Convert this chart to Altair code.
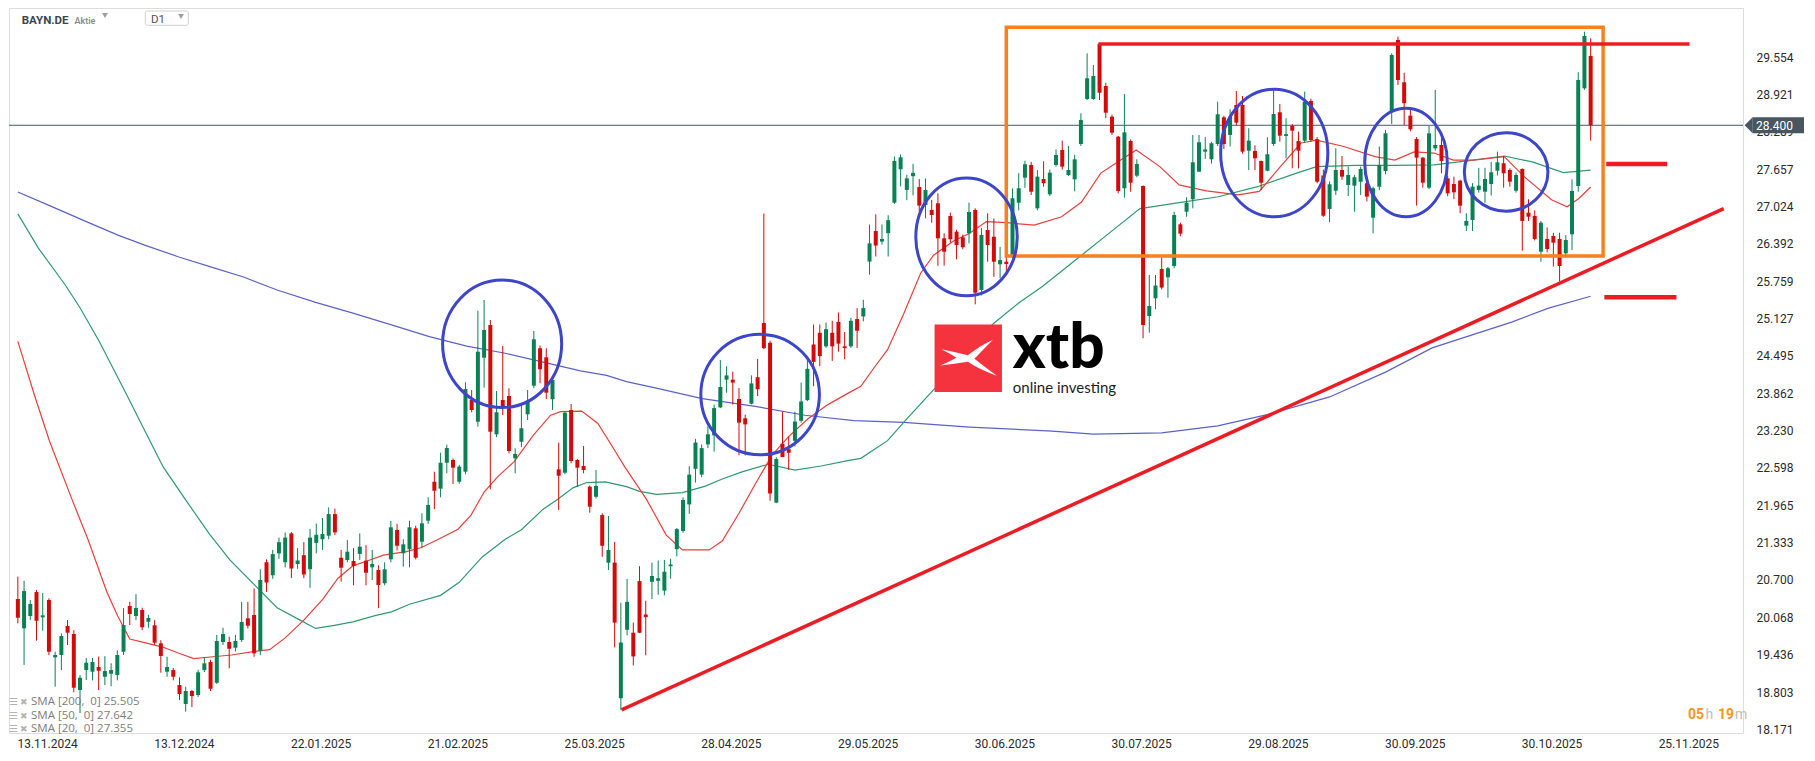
import json
import altair as alt
import pandas as pd

# ---------------- data (daily candles, index 0 = first bar) -------------
opens = [
    20.378, 19.882, 20.090, 20.496, 20.068, 20.361, 19.391, 19.430, 19.921, 19.785,
    18.837, 19.175, 19.147, 19.226, 19.062, 19.113, 19.091, 19.485, 20.259, 20.090,
    20.192, 19.994, 19.933, 19.628, 19.147, 19.175, 18.921, 18.600, 18.820, 18.752,
    19.175, 19.311, 18.960, 19.650, 19.650, 19.553, 19.684, 20.051, 20.107, 19.502,
    21.001, 20.781, 21.150, 21.001, 21.489, 20.970, 21.120, 20.883, 21.328, 21.390,
    21.450, 21.816, 21.077, 21.038, 21.021, 21.141, 21.027, 20.915, 20.869, 20.644,
    21.050, 21.547, 21.152, 21.220, 21.575, 21.348, 21.704, 22.364, 22.247, 22.686,
    22.732, 22.364, 22.534, 23.748, 23.380, 24.464, 25.018, 23.167, 23.748, 23.816,
    22.761, 23.042, 23.506, 23.990, 24.624, 24.471, 23.760, 22.574, 22.517, 23.579,
    22.732, 22.630, 22.280, 22.110, 21.800, 20.993, 20.994, 18.698, 19.857, 19.807,
    20.681, 20.115, 20.669, 20.686, 20.520, 20.933, 21.223, 21.530, 21.980, 22.583,
    22.485, 22.996, 23.150, 23.623, 24.092, 24.092, 23.765, 23.438, 23.685, 24.134,
    25.052, 24.718, 22.011, 23.008, 22.915, 23.057, 23.396, 23.746, 24.688, 24.886,
    24.657, 24.886, 25.071, 24.657, 24.657, 25.119, 25.162, 26.092, 26.609, 26.431,
    26.573, 27.089, 27.655, 27.305, 27.538, 27.354, 27.050, 26.966, 27.079, 26.486,
    26.864, 26.598, 26.503, 26.571, 26.966, 25.611, 26.627, 26.513, 26.046, 26.090,
    26.175, 27.089, 27.513, 27.728, 26.994, 27.490, 27.231, 27.727, 27.982, 27.558,
    27.485, 28.083, 28.845, 28.845, 29.777, 29.066, 28.546, 28.207, 27.333, 28.134,
    27.547, 27.372, 25.170, 25.470, 25.967, 25.826, 26.017, 26.723, 26.937, 27.147,
    27.614, 27.953, 27.824, 28.083, 28.535, 28.236, 28.744, 28.744, 27.970, 27.965,
    27.796, 27.631, 28.083, 28.620, 28.220, 28.388, 28.134, 28.139, 28.812, 28.163,
    27.550, 26.982, 27.292, 27.643, 27.389, 27.378, 27.445, 27.418, 26.835, 27.360,
    27.626, 28.647, 29.845, 29.128, 28.563, 28.168, 27.852, 27.344, 28.010, 28.066,
    27.502, 27.406, 27.462, 26.700, 26.797, 27.305, 27.276, 27.406, 27.631, 27.757,
    27.643, 27.292, 27.660, 26.920, 26.865, 26.260, 26.475, 26.526, 26.475, 26.232,
    26.554, 27.372, 29.026, 29.574,
]
highs = [
    20.756, 20.688, 20.36, 20.53, 20.480, 20.39, 19.485, 19.797, 20.022, 19.85,
    19.09, 19.379, 19.38, 19.401, 19.41, 19.29, 19.51, 20.226, 20.332, 20.46,
    20.23, 20.11, 20.02, 19.68, 19.40, 19.21, 19.05, 18.893, 18.84, 19.18,
    19.38, 19.35, 19.768, 19.89, 19.74, 19.77, 20.33, 20.33, 20.557, 20.881,
    21.05, 21.21, 21.418, 21.506, 21.51, 21.24, 21.34, 21.565, 21.655, 21.75,
    21.93, 21.91, 21.21, 21.38, 21.24, 21.49, 21.29, 21.21, 20.95, 21.0,
    21.70, 21.65, 21.39, 21.704, 21.62, 21.829, 22.101, 22.534, 22.856, 22.991,
    22.76, 22.65, 24.048, 23.918, 25.260, 25.442, 25.103, 23.90, 24.663, 23.946,
    22.930, 23.663, 23.918, 24.917, 24.67, 24.624, 24.12, 23.025, 23.56, 23.680,
    22.75, 22.969, 22.30, 22.562, 21.83, 21.784, 21.345, 20.317, 20.718, 19.98,
    20.933, 20.349, 20.994, 21.03, 21.04, 21.06, 21.58, 22.10, 22.627, 23.09,
    22.996, 23.303, 23.672, 24.424, 24.319, 24.227, 23.950, 23.50, 24.165, 24.443,
    26.905, 24.75, 22.78, 23.550, 23.131, 23.55, 24.043, 24.443, 25.027, 25.027,
    25.06, 25.09, 25.230, 24.90, 25.14, 25.304, 25.445, 26.720, 26.893, 26.72,
    26.876, 27.872, 27.907, 27.563, 27.748, 27.489, 27.50, 27.135, 27.249, 26.57,
    26.92, 26.63, 26.55, 27.09, 26.994, 26.66, 26.910, 26.82, 26.34, 26.17,
    27.33, 27.59, 27.80, 27.78, 27.64, 27.79, 27.65, 27.99, 28.14, 28.05,
    27.9, 28.603, 29.619, 29.422, 29.78, 29.12, 28.58, 28.22, 28.93, 28.16,
    27.824, 27.38, 25.865, 25.865, 26.164, 26.0, 26.937, 26.75, 27.18, 28.236,
    28.236, 28.2, 28.12, 28.80, 28.56, 28.672, 28.98, 28.896, 28.35, 28.06,
    27.80, 28.197, 29.01, 28.761, 28.519, 28.42, 28.292, 28.969, 28.85, 28.2,
    27.65, 27.45, 28.01, 27.88, 27.70, 27.56, 27.70, 27.45, 27.36, 28.04,
    28.32, 29.619, 29.90, 29.29, 28.66, 28.20, 27.86, 28.388, 28.998, 28.19,
    27.55, 27.53, 27.48, 26.91, 27.42, 27.68, 27.68, 27.78, 27.953, 27.88,
    27.67, 27.6, 27.67, 27.147, 26.96, 26.78, 26.670, 26.58, 26.58, 26.54,
    27.485, 29.298, 29.985, 29.873,
]
lows = [
    19.966, 19.260, 20.02, 19.672, 19.841, 19.430, 18.893, 19.175, 19.599, 18.798,
    18.447, 19.006, 19.0, 18.837, 18.92, 18.90, 19.0, 19.43, 19.938, 20.02,
    19.85, 19.89, 19.60, 19.130, 19.06, 19.0, 18.67, 18.469, 18.549, 18.72,
    19.14, 18.82, 18.94, 19.60, 19.204, 19.49, 19.65, 19.88, 19.40, 19.43,
    20.50, 20.72, 21.06, 20.913, 20.733, 20.89, 20.73, 20.568, 21.15, 21.21,
    21.39, 21.46, 20.671, 21.0, 20.61, 21.04, 20.61, 20.70, 20.221, 20.61,
    21.0, 21.20, 20.925, 20.915, 21.05, 21.236, 21.65, 21.90, 22.10, 22.507,
    22.325, 22.33, 22.490, 23.54, 23.296, 23.956, 22.236, 23.12, 23.494, 22.845,
    22.507, 22.95, 23.41, 23.946, 24.031, 23.765, 23.579, 21.885, 22.49, 22.676,
    22.280, 22.507, 21.839, 22.08, 21.094, 20.869, 19.560, 18.502, 19.763, 19.252,
    19.80, 19.425, 20.378, 20.45, 20.44, 20.72, 21.10, 21.50, 21.82, 22.35,
    22.441, 22.933, 22.872, 23.61, 23.870, 23.672, 22.812, 22.81, 23.672, 23.814,
    24.61, 22.041, 22.0, 22.78, 22.564, 22.96, 23.365, 23.73, 23.980, 24.32,
    24.63, 24.41, 24.566, 24.44, 24.63, 24.63, 25.08, 25.870, 26.178, 26.38,
    26.178, 27.07, 27.365, 27.132, 27.213, 26.935, 26.825, 26.75, 26.022, 26.022,
    26.41, 26.13, 26.30, 26.40, 25.369, 25.52, 26.090, 25.835, 25.81, 25.89,
    26.15, 26.96, 27.34, 27.22, 26.96, 27.36, 27.20, 27.70, 27.65, 27.54,
    27.28, 28.05, 28.828, 28.83, 28.828, 28.519, 28.236, 27.248, 27.174, 27.275,
    27.52, 24.793, 24.888, 25.284, 25.62, 25.48, 25.98, 26.52, 26.85, 26.994,
    27.61, 27.83, 27.75, 28.05, 28.0, 28.04, 28.40, 27.92, 27.643, 27.64,
    27.305, 27.62, 28.05, 28.122, 27.841, 27.672, 27.67, 28.10, 28.12, 27.418,
    26.85, 26.758, 27.220, 27.474, 27.203, 26.937, 27.22, 27.11, 26.571, 27.3,
    27.57, 28.422, 29.083, 28.405, 28.30, 27.039, 27.344, 27.32, 27.970, 27.587,
    27.2, 27.15, 26.910, 26.610, 26.61, 27.26, 27.089, 27.21, 27.55, 27.344,
    27.36, 27.26, 26.276, 26.78, 26.45, 26.09, 26.25, 26.007, 25.753, 26.16,
    26.288, 27.275, 29.0, 28.139,
]
closes = [
    20.061, 20.513, 20.293, 20.010, 20.102, 19.485, 19.430, 19.751, 19.807, 18.876,
    19.045, 19.299, 19.311, 19.164, 19.158, 19.175, 19.430, 19.938, 20.124, 20.226,
    19.899, 20.056, 19.638, 19.413, 19.226, 19.062, 18.769, 18.820, 18.735, 19.137,
    19.289, 18.859, 19.667, 19.785, 19.536, 19.667, 19.988, 19.926, 19.458, 20.700,
    20.657, 21.138, 21.340, 21.418, 20.894, 21.030, 20.793, 21.418, 21.465, 21.480,
    21.816, 21.506, 20.908, 21.179, 20.937, 21.264, 20.823, 20.970, 20.615, 20.881,
    21.592, 21.280, 21.304, 21.592, 21.077, 21.660, 21.970, 22.212, 22.686, 22.935,
    22.602, 22.619, 23.934, 23.579, 24.566, 24.933, 23.211, 23.540, 23.624, 22.884,
    22.834, 23.269, 23.736, 24.776, 24.268, 23.872, 24.087, 22.466, 23.533, 22.715,
    22.602, 22.562, 21.941, 22.292, 21.280, 21.208, 19.978, 19.641, 20.330, 19.406,
    19.807, 20.071, 20.767, 20.730, 20.840, 20.963, 21.562, 22.055, 22.485, 23.027,
    22.933, 23.167, 23.611, 23.968, 24.165, 24.043, 23.365, 23.335, 24.029, 23.931,
    24.627, 22.165, 22.749, 22.781, 22.854, 23.384, 23.723, 24.276, 24.393, 24.491,
    24.947, 24.657, 24.702, 24.627, 25.089, 24.921, 25.304, 26.400, 26.363, 26.474,
    26.793, 27.797, 27.858, 27.501, 27.594, 27.040, 27.305, 26.881, 26.486, 26.259,
    26.470, 26.373, 26.334, 26.932, 25.565, 26.543, 26.373, 26.090, 26.118, 26.050,
    27.164, 27.333, 27.740, 27.276, 27.530, 27.418, 27.597, 27.897, 27.700, 27.643,
    27.824, 28.490, 29.196, 29.235, 28.952, 28.613, 28.275, 27.287, 28.281, 27.428,
    27.745, 25.018, 25.340, 25.686, 25.652, 25.979, 26.881, 26.565, 27.089, 27.773,
    28.112, 27.990, 28.095, 28.586, 28.083, 28.546, 28.444, 27.953, 28.140, 27.841,
    27.428, 27.909, 28.591, 28.224, 28.250, 28.308, 27.970, 28.800, 28.151, 27.445,
    26.869, 27.401, 27.643, 27.530, 27.558, 27.520, 27.660, 27.192, 27.333, 27.728,
    28.264, 29.590, 29.167, 28.773, 28.332, 27.852, 27.428, 28.264, 28.066, 27.794,
    27.248, 27.265, 27.039, 26.780, 27.361, 27.378, 27.490, 27.604, 27.773, 27.587,
    27.445, 27.558, 26.780, 26.852, 26.475, 26.750, 26.305, 26.412, 26.017, 26.458,
    27.287, 29.167, 29.912, 28.400,
]

# moving averages (bar index, value)
sma20_k = [0, 2.7, 5.1, 8.8, 11.3, 14.3, 16.1, 18, 20.4, 23.4, 25.9, 28.3, 31.4, 34.4, 38.1,
           40.5, 43, 46, 49.1, 51.5, 53.9, 56.4, 58.8, 62.5, 64.9, 67.5, 70.8, 72.9, 75, 77.2,
           79.8, 83, 85.7, 87.3, 90.7, 93.3, 95.8, 97.6, 101.1, 104.3, 106.9, 111.2, 113.3, 116,
           118.6, 121.3, 123.9, 127.1, 130.3, 133.5, 135.6, 137.7, 139.9, 142.5, 145.2, 147.3,
           150.5, 153.1, 155.8, 159, 163.5, 167.9, 171.1, 174.2, 177.4, 179.9, 183.7, 186.8,
           191.2, 196.3, 199.7, 202.6, 206.4, 208.9, 213.3, 218.3, 221.5, 224.6, 227.8, 230.9,
           234.1, 239.1, 242.3, 246.7, 249.2, 251.1, 253]
sma20_v = [24.74, 23.82, 23.05, 22.04, 21.38, 20.50, 20.08, 19.70, 19.64, 19.56, 19.46, 19.37,
           19.40, 19.43, 19.49, 19.52, 19.72, 20.02, 20.38, 20.73, 20.94, 21.03, 21.12, 21.18,
           21.25, 21.38, 21.56, 21.80, 22.19, 22.45, 22.70, 23.16, 23.49, 23.55, 23.56, 23.35,
           22.93, 22.62, 22.07, 21.46, 21.21, 21.21, 21.36, 21.83, 22.32, 22.81, 23.12, 23.43,
           23.67, 23.86, 23.98, 24.29, 24.60, 25.21, 25.89, 26.20, 26.44, 26.57, 26.77, 26.75,
           26.71, 26.85, 27.10, 27.59, 27.81, 27.98, 27.70, 27.39, 27.29, 27.22, 27.28, 27.64,
           28.10, 28.15, 28.04, 27.87, 27.81, 27.95, 27.93, 27.81, 27.81, 27.87, 27.53, 27.14,
           27.02, 27.16, 27.355]
sma50_k = [0, 3.3, 7.6, 10, 13.1, 17.3, 20.4, 23.4, 27.1, 30.8, 34.1, 38.5, 41.7, 45.4, 47.9,
           50.9, 53.9, 57.6, 60.1, 63, 68, 71, 74.7, 78.4, 81, 84.5, 86.9, 89.3, 91.5, 94.5,
           97.9, 100, 102.7, 106.9, 110.6, 113.3, 116.5, 120.7, 125, 129.2, 133.5, 135.6, 139.9,
           143, 147.8, 153.1, 156.9, 161.1, 164.8, 171.1, 175.5, 180.5, 186.8, 193.1, 199.4,
           205.7, 208.9, 215.2, 221.5, 227.8, 234.1, 239.1, 243.6, 248.6, 253]
sma50_v = [26.90, 26.32, 25.70, 25.31, 24.74, 23.88, 23.23, 22.61, 22.04, 21.48, 21.04, 20.57,
           20.23, 20.02, 19.88, 19.93, 19.99, 20.10, 20.16, 20.29, 20.44, 20.66, 21.09, 21.39,
           21.55, 21.90, 22.07, 22.26, 22.35, 22.36, 22.28, 22.20, 22.15, 22.18, 22.29, 22.41,
           22.53, 22.66, 22.56, 22.63, 22.72, 22.76, 23.06, 23.43, 23.98, 24.63, 25.04, 25.40,
           25.67, 26.20, 26.57, 26.99, 27.09, 27.19, 27.36, 27.59, 27.70, 27.72, 27.72, 27.73,
           27.81, 27.88, 27.78, 27.60, 27.642]
sma200_k = [0, 5.1, 11.2, 16.1, 20.4, 25.9, 31.4, 36.3, 41.7, 47.9, 53.9, 60.1, 66.2, 72.2,
            78.4, 84.5, 90.5, 94.7, 97.9, 102.7, 110.1, 118.6, 126.6, 134.5, 142.5, 153.1,
            166.4, 173, 184, 193, 201, 211, 220, 227.5, 240.4, 246.1, 253]
sma200_v = [27.27, 27.04, 26.76, 26.54, 26.37, 26.17, 25.99, 25.83, 25.61, 25.40, 25.22, 25.02,
            24.82, 24.66, 24.54, 24.39, 24.24, 24.165, 24.06, 23.95, 23.77, 23.64, 23.49, 23.40,
            23.37, 23.29, 23.22, 23.17, 23.19, 23.31, 23.50, 23.80, 24.22, 24.63, 25.07, 25.30,
            25.505]

# axis ticks / labels
y_ticks = [18.171, 18.803, 19.436, 20.068, 20.700, 21.333, 21.965, 22.598, 23.230, 23.862,
           24.495, 25.127, 25.759, 26.392, 27.024, 27.657, 28.289, 28.921, 29.554]
date_labels = ["13.11.2024", "13.12.2024", "22.01.2025", "21.02.2025", "25.03.2025",
               "28.04.2025", "29.05.2025", "30.06.2025", "30.07.2025", "29.08.2025",
               "30.09.2025", "30.10.2025", "25.11.2025"]
date_ticks = [4.7, 26.7, 48.7, 70.7, 92.7, 114.7, 136.7, 158.7, 180.7, 202.7, 224.7, 246.7, 268.7]

last_price = 28.400
NB = "\u00a0"
sma_legend = [f"SMA [200,{NB}{NB}0]{NB}25.505", f"SMA [50,{NB}{NB}0]{NB}27.642", f"SMA [20,{NB}{NB}0]{NB}27.355"]

# annotation levels (bar index / price)
box_k = [159.0, 255.0]
box_p = [26.187, 30.06]
resistance_k = [173.8, 268.9]
resistance_p = 29.777
support_k = [97.1, 274.4]
support_p = [18.50, 26.99]
stub_k1 = [255.5, 265.3]
stub_p1 = 27.745
stub_k2 = [255.2, 266.8]
stub_p2 = 25.49
circle_k = [77.9, 119.4, 152.6, 202.1, 223.3, 239.4]
circle_p = [24.70, 23.84, 26.51, 27.93, 27.77, 27.61]
circle_rx = [59.5, 59.3, 50.7, 53.6, 41.3, 41.8]   # px, style only
circle_ry = [63.8, 60.2, 58.9, 63.8, 54.2, 39.2]

# ---------------- styling ----------------
GREEN = "#0a8055"
RED = "#d20a0a"
XDOM = [-0.62, 276.7]
YDOM = [18.109, 30.386]
W, H = 1734, 725

x_axis = alt.Axis(values=date_ticks,
                  labelExpr=json.dumps(date_labels) + "[round((datum.value - 4.7) / 22)]",
                  grid=False, domain=False, ticks=False, labelPadding=5, labelFontSize=12,
                  labelColor="#2b2b2b", labelFont="Roboto", labelOverlap=False, labelFlush=False)
y_axis = alt.Axis(orient="right", values=y_ticks, format=".3f", grid=False, domain=False,
                  ticks=False, labelPadding=13, labelFontSize=12, labelColor="#2b2b2b",
                  labelFont="Roboto", labelOverlap=False)


def X(f):
    return alt.X(f"{f}:Q", scale=alt.Scale(domain=XDOM, nice=False, zero=False), axis=x_axis, title=None)


def Y(f):
    return alt.Y(f"{f}:Q", scale=alt.Scale(domain=YDOM, nice=False, zero=False), axis=y_axis, title=None)


n = len(opens)
candles = pd.DataFrame({"k": list(range(n)), "open": opens, "high": highs, "low": lows, "close": closes})
candles["dir"] = ["up" if c >= o else "down" for o, c in zip(opens, closes)]
col = alt.Color("dir:N", scale=alt.Scale(domain=["up", "down"], range=[GREEN, RED]), legend=None)

layers = []

layers.append(alt.Chart(pd.DataFrame({"v": [last_price]})).mark_rule(color="#4a5862", strokeWidth=1)
              .encode(y=Y("v")))

for ks, vs, c in [(sma200_k, sma200_v, "#5a62c8"), (sma50_k, sma50_v, "#2f9a6c"), (sma20_k, sma20_v, "#e5403c")]:
    layers.append(alt.Chart(pd.DataFrame({"k": ks, "v": vs})).mark_line(color=c, strokeWidth=1.2)
                  .encode(x=X("k"), y=Y("v")))

layers.append(alt.Chart(candles).mark_rule(strokeWidth=1).encode(x=X("k"), y=Y("low"), y2="high", color=col))
layers.append(alt.Chart(candles).mark_bar(size=4).encode(x=X("k"), y=Y("open"), y2="close", color=col))

# orange range box
layers.append(alt.Chart(pd.DataFrame({"k1": [box_k[0]], "k2": [box_k[1]], "p1": [box_p[0]], "p2": [box_p[1]]}))
              .mark_rect(fillOpacity=0, stroke="#f7811f", strokeWidth=3.5)
              .encode(x=X("k1"), x2="k2", y=Y("p1"), y2="p2"))

lines = pd.DataFrame({
    "k1": [resistance_k[0], support_k[0], stub_k1[0], stub_k2[0]],
    "k2": [resistance_k[1], support_k[1], stub_k1[1], stub_k2[1]],
    "p1": [resistance_p, support_p[0], stub_p1, stub_p2],
    "p2": [resistance_p, support_p[1], stub_p1, stub_p2],
    "w": [3.5, 3.5, 4.5, 4.5],
})
layers.append(alt.Chart(lines).mark_rule(color="#ec1c24")
              .encode(x=X("k1"), x2="k2", y=Y("p1"), y2="p2",
                      strokeWidth=alt.StrokeWidth("w:Q", scale=None)))

for ck, cp, rx, ry in zip(circle_k, circle_p, circle_rx, circle_ry):
    m = max(rx, ry)
    a, b = rx / m, ry / m
    path = f"M {-a:.3f},0 A {a:.3f},{b:.3f} 0 1,0 {a:.3f},0 A {a:.3f},{b:.3f} 0 1,0 {-a:.3f},0 Z"
    layers.append(alt.Chart(pd.DataFrame({"k": [ck], "p": [cp]}))
                  .mark_point(shape=path, size=4 * m * m, filled=False, color="#3d45c9",
                              strokeWidth=3, opacity=1)
                  .encode(x=X("k"), y=Y("p")))

# xtb logo
layers.append(alt.Chart(pd.DataFrame({"k1": [147.46], "k2": [158.3], "p1": [23.883], "p2": [25.027]}))
              .mark_rect(color="#f4333f").encode(x=X("k1"), x2="k2", y=Y("p1"), y2="p2"))
XPATH = ("M -0.9,-0.3 Q -0.4,-0.2 -0.02,-0.1 Q 0.35,-0.4 0.82,-0.62 Q 0.45,-0.25 0.2,0.02 "
         "Q 0.55,0.3 0.95,0.58 Q 0.4,0.4 -0.02,0.12 Q -0.5,0.2 -0.95,0.24 Q -0.6,0.1 -0.4,-0.02 "
         "Q -0.6,-0.15 -0.9,-0.3 Z")
layers.append(alt.Chart(pd.DataFrame({"k": [152.9], "p": [24.455]}))
              .mark_point(shape=XPATH, size=3600, filled=True, color="white", opacity=1, strokeWidth=0)
              .encode(x=X("k"), y=Y("p")))
layers.append(alt.Chart(pd.DataFrame({"k": [160.05], "p": [24.29], "t": ["xtb"]}))
              .mark_text(align="left", baseline="alphabetic", fontSize=62, fontWeight=900,
                         font="Lato", color="#000000")
              .encode(x=X("k"), y=Y("p"), text="t:N"))
layers.append(alt.Chart(pd.DataFrame({"k": [160.05], "p": [23.87], "t": ["online investing"]}))
              .mark_text(align="left", baseline="alphabetic", fontSize=15, font="Lato", color="#222222")
              .encode(x=X("k"), y=Y("p"), text="t:N"))


def txt(t, x, y, **kw):
    return (alt.Chart(pd.DataFrame({"t": [t]})).mark_text(**kw)
            .encode(x=alt.value(x), y=alt.value(y), text="t:N"))


# header
layers.append(txt("BAYN.DE", 12.7, 16, align="left", baseline="alphabetic", fontSize=11.5,
                  fontWeight="bold", font="Roboto", color="#37474f"))
layers.append(txt("Aktie", 65.5, 16, align="left", baseline="alphabetic", fontSize=9,
                  fontWeight=600, font="Roboto", color="#8c8c8c"))
layers.append(alt.Chart(pd.DataFrame({"a": [0]})).mark_point(shape="triangle-down", size=35, filled=True,
                                                            color="#9e9e9e", opacity=1)
              .encode(x=alt.value(96), y=alt.value(7.5)))
layers.append(alt.Chart(pd.DataFrame({"a": [0]})).mark_rect(fill="white", stroke="#d0d0d0", strokeWidth=1,
                                                           cornerRadius=2)
              .encode(x=alt.value(136.3), x2=alt.value(179.3), y=alt.value(3), y2=alt.value(17.3)))
layers.append(txt("D1", 142, 14.5, align="left", baseline="alphabetic", fontSize=11.5,
                  font="Roboto", color="#555555"))
layers.append(alt.Chart(pd.DataFrame({"a": [0]})).mark_point(shape="triangle-down", size=35, filled=True,
                                                            color="#9e9e9e", opacity=1)
              .encode(x=alt.value(172), y=alt.value(8.5)))

# SMA legend
for i, lbl in enumerate(sma_legend):
    yy = 693.7 + i * 13.8
    layers.append(txt("☰", 0, yy, align="left", baseline="middle", fontSize=10, font="DejaVu Sans",
                      color="#b3b3b3"))
    layers.append(txt("✖", 11, yy, align="left", baseline="middle", fontSize=9, font="DejaVu Sans",
                      color="#b3b3b3"))
    layers.append(txt(lbl, 22, yy, align="left", baseline="middle", fontSize=11.5, font="Open Sans",
                      color="#7d7d7d"))

# countdown
layers.append(txt("05", 1679, 707, align="left", baseline="middle", fontSize=14, fontWeight="bold",
                  font="Roboto", color="#f7941d"))
layers.append(txt("h", 1696.5, 707, align="left", baseline="middle", fontSize=14, font="Roboto",
                  color="#bdbdbd"))
layers.append(txt("19", 1709, 707, align="left", baseline="middle", fontSize=14, fontWeight="bold",
                  font="Roboto", color="#f7941d"))
layers.append(txt("m", 1726, 707, align="left", baseline="middle", fontSize=14, font="Roboto",
                  color="#bdbdbd"))

# current price marker
layers.append(alt.Chart(pd.DataFrame({"a": [0]})).mark_rect(color="#47565f")
              .encode(x=alt.value(1743.5), x2=alt.value(1795), y=alt.value(109.3), y2=alt.value(125.3)))
layers.append(alt.Chart(pd.DataFrame({"a": [0]}))
              .mark_point(shape="M -0.5,0 L 0.5,-1 L 0.5,1 Z", size=256, filled=True, color="#47565f",
                          opacity=1, strokeWidth=0)
              .encode(x=alt.value(1739.6), y=alt.value(117.3)))
layers.append(txt(f"{last_price:.3f}", 1747, 117.6, align="left", baseline="middle", fontSize=12,
                  font="Roboto", color="#ffffff"))

chart = (alt.layer(*layers)
         .properties(width=W, height=H, padding=0, background="white")
         .configure_view(strokeWidth=0)
         .configure(font="Roboto"))

chart.save("out.html", embed_options={"renderer": "svg", "actions": False})
